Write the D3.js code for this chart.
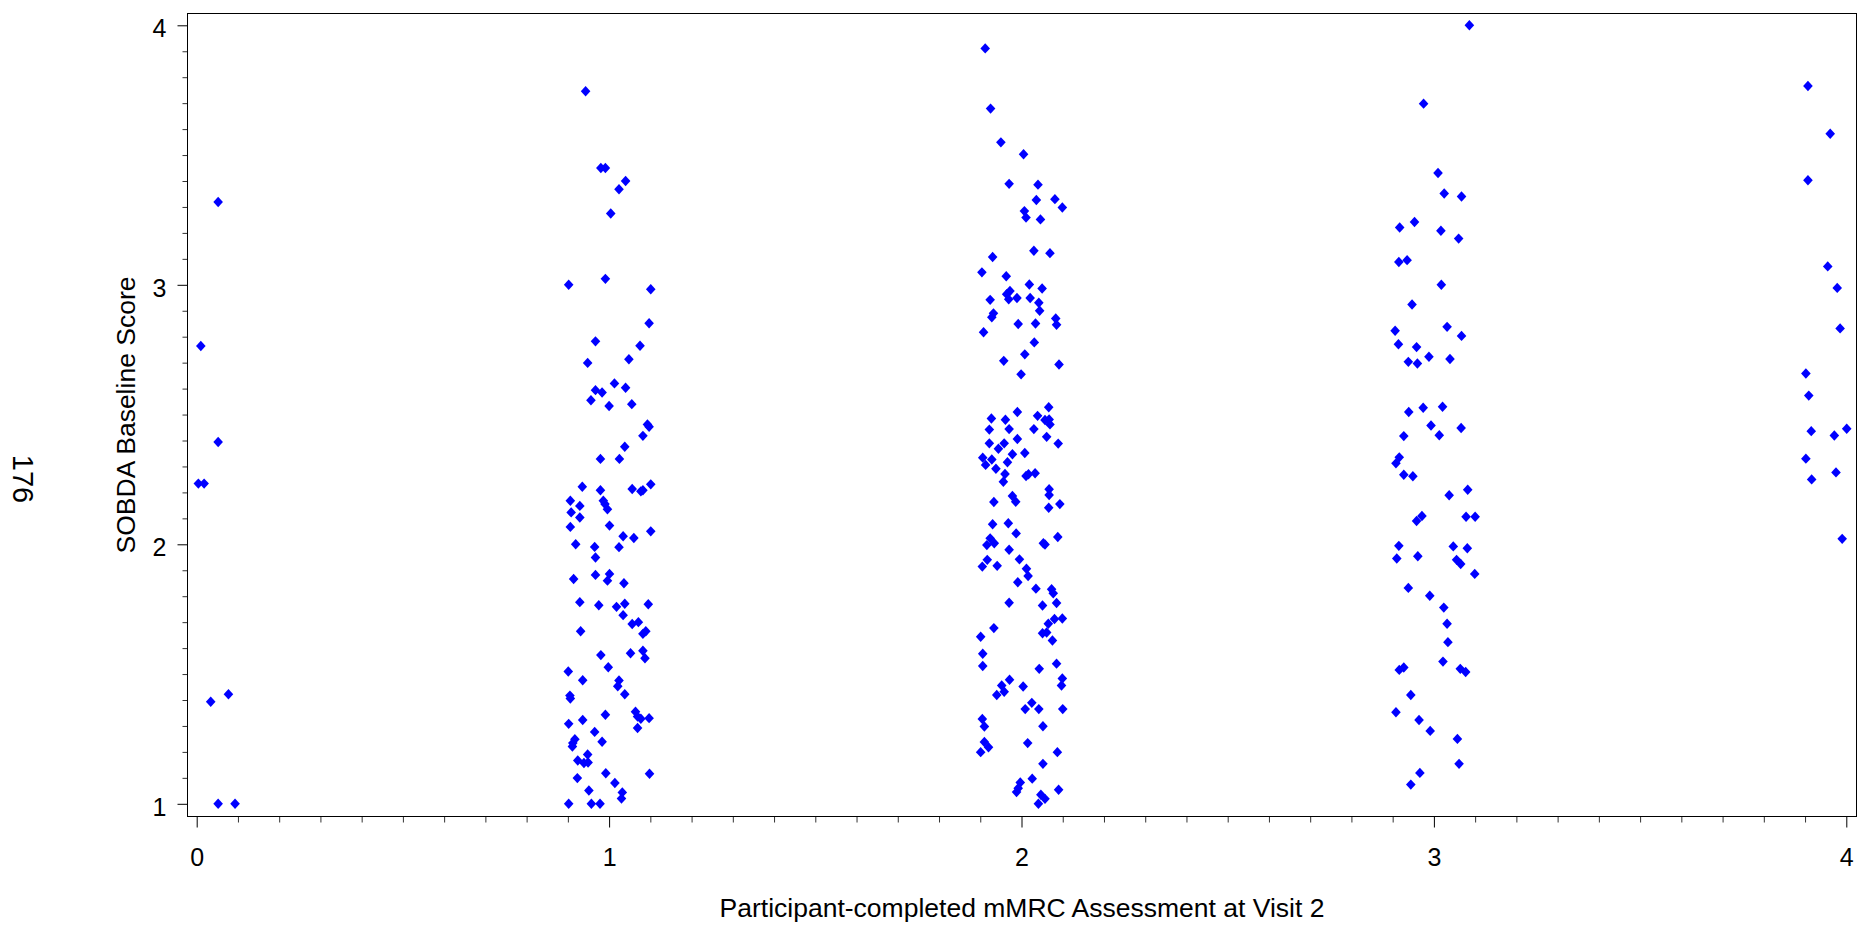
<!DOCTYPE html>
<html>
<head>
<meta charset="utf-8">
<script src="https://cdn.jsdelivr.net/npm/d3@7"></script>
<style>
  html, body { margin: 0; padding: 0; background: #fff; }
  svg { display: block; }
  text { font-family: "Liberation Sans", Arial, Helvetica, sans-serif; fill: #000; }
</style>
</head>
<body>
<svg id="chart" width="1860" height="932"></svg>
<script>
// mMRC grade groups (jittered horizontal position) and SOBDA baseline scores
const grade0X = [0.052,0.010,0.052,0.004,0.018,0.034,0.077,0.052,0.093];
const grade0Y = [3.319,2.764,2.394,2.234,2.234,1.393,1.422,1.000,1.000];

const grade1X = [0.943,0.980,0.991,1.040,1.024,1.004,0.902,0.991,1.101,1.097,
  0.967,1.075,0.948,1.048,1.013,1.040,0.967,0.983,0.956,1.000,
  1.055,1.093,1.097,1.082,1.038,0.979,1.025,0.935,0.979,1.056,
  1.077,1.082,1.101,0.906,0.986,0.990,0.996,0.929,0.908,0.929,
  0.906,1.001,1.101,1.034,1.060,0.919,0.965,1.024,0.967,0.914,
  0.967,1.001,0.996,1.036,0.929,0.975,1.018,1.038,1.034,1.095,
  1.056,1.071,1.082,1.089,0.931,0.980,1.052,1.082,1.087,0.901,
  0.998,0.936,1.024,1.021,1.038,0.905,0.906,0.991,1.064,1.069,
  1.077,1.097,1.069,0.902,0.936,0.965,0.917,0.912,0.911,0.983,
  0.948,0.924,0.939,0.949,0.992,1.098,0.923,1.014,0.951,1.032,
  1.030,0.902,0.957,0.978];
const grade1Y = [3.746,3.450,3.450,3.400,3.368,3.275,3.000,3.023,2.983,2.852,
  2.782,2.765,2.699,2.713,2.620,2.603,2.594,2.585,2.555,2.533,
  2.540,2.462,2.453,2.418,2.376,2.329,2.329,2.222,2.208,2.213,
  2.204,2.208,2.231,2.168,2.168,2.155,2.135,2.148,2.123,2.103,
  2.067,2.072,2.050,2.031,2.024,2.000,1.990,1.989,1.949,1.866,
  1.882,1.886,1.860,1.850,1.777,1.765,1.759,1.771,1.727,1.769,
  1.693,1.700,1.655,1.665,1.665,1.573,1.580,1.590,1.561,1.510,
  1.526,1.476,1.475,1.453,1.422,1.417,1.406,1.343,1.355,1.336,
  1.328,1.330,1.292,1.308,1.323,1.277,1.249,1.234,1.221,1.239,
  1.190,1.167,1.157,1.159,1.118,1.116,1.099,1.080,1.051,1.044,
  1.020,1.000,1.000,1.000];

const grade2X = [1.912,1.925,1.950,2.005,1.970,2.040,2.036,2.081,2.099,2.007,
  2.011,2.046,2.030,2.069,1.930,1.904,1.963,2.019,2.050,1.972,
  1.964,1.969,1.989,2.021,1.924,2.042,2.044,1.932,1.928,2.083,
  2.085,1.992,2.034,1.908,2.031,2.008,1.957,2.091,1.999,2.066,
  1.990,1.927,1.961,2.039,2.057,2.067,2.069,1.922,1.970,2.030,
  2.061,1.990,1.922,1.958,1.944,2.089,1.906,1.913,1.928,1.978,
  1.966,2.008,1.938,1.960,1.956,2.011,2.017,2.033,2.067,2.067,
  1.978,1.986,1.933,2.093,2.066,1.930,1.968,1.987,2.088,1.924,
  1.916,1.934,2.053,2.057,1.970,1.917,1.905,1.941,1.995,2.012,
  2.016,1.991,2.035,2.073,2.077,1.970,2.051,2.085,2.080,2.099,
  2.065,1.933,1.901,2.051,2.061,2.075,1.906,1.906,2.043,2.085,
  1.971,1.952,1.958,1.940,2.004,2.099,2.097,2.025,2.009,2.042,
  2.100,1.905,1.910,2.052,1.910,1.920,1.901,2.015,2.087,2.052,
  2.026,1.997,1.992,1.988,2.090,2.047,2.057,2.041];
const grade2Y = [3.911,3.679,3.549,3.503,3.389,3.386,3.327,3.330,3.298,3.284,
  3.259,3.252,3.131,3.122,3.107,3.048,3.033,3.001,2.986,2.976,
  2.964,2.944,2.949,2.949,2.942,2.931,2.900,2.890,2.875,2.870,
  2.846,2.849,2.851,2.817,2.778,2.732,2.707,2.693,2.655,2.528,
  2.510,2.485,2.480,2.495,2.479,2.481,2.462,2.442,2.444,2.444,
  2.414,2.406,2.389,2.389,2.368,2.388,2.334,2.306,2.327,2.347,
  2.316,2.352,2.291,2.271,2.241,2.263,2.270,2.274,2.212,2.190,
  2.186,2.164,2.163,2.155,2.141,2.077,2.081,2.042,2.028,2.023,
  1.997,2.004,2.004,1.999,1.979,1.940,1.914,1.917,1.942,1.906,
  1.878,1.854,1.829,1.827,1.811,1.775,1.764,1.774,1.712,1.714,
  1.694,1.677,1.644,1.657,1.660,1.629,1.578,1.531,1.520,1.540,
  1.478,1.456,1.432,1.419,1.452,1.483,1.456,1.389,1.365,1.365,
  1.365,1.327,1.298,1.299,1.238,1.218,1.199,1.234,1.199,1.154,
  1.097,1.082,1.060,1.045,1.054,1.035,1.019,1.000];

const grade3X = [3.086,2.975,3.010,3.025,3.067,2.917,2.953,3.017,3.060,2.915,
  2.935,3.018,2.947,2.906,3.032,3.067,2.914,2.958,2.938,2.960,
  2.988,3.039,2.939,2.974,3.021,2.993,3.066,2.927,3.013,2.916,
  2.908,2.927,2.949,3.082,3.037,2.971,2.958,3.078,3.100,2.915,
  2.910,2.961,3.047,3.081,3.055,3.065,3.099,2.938,2.990,3.024,
  3.032,3.034,3.022,2.916,2.927,3.064,3.077,2.944,2.908,2.964,
  2.991,3.057,3.061,2.966,2.944];
const grade3Y = [4.000,3.698,3.431,3.352,3.340,3.221,3.242,3.208,3.178,3.088,
  3.095,3.000,2.924,2.823,2.838,2.803,2.771,2.760,2.703,2.697,
  2.723,2.714,2.510,2.526,2.530,2.458,2.448,2.417,2.420,2.335,
  2.312,2.268,2.262,2.210,2.189,2.109,2.090,2.106,2.106,1.994,
  1.945,1.954,1.992,1.985,1.940,1.924,1.886,1.832,1.802,1.756,
  1.694,1.623,1.548,1.516,1.525,1.520,1.508,1.419,1.353,1.323,
  1.281,1.250,1.154,1.119,1.074];

const grade4X = [3.907,3.961,3.907,3.955,3.978,3.985,3.902,3.909,3.915,3.971,4.001,3.902,3.916,3.975,3.990];
const grade4Y = [3.766,3.582,3.403,3.071,2.988,2.832,2.658,2.573,2.436,2.419,2.445,2.330,2.250,2.277,2.021];

const xTickValues = [0, 1, 2, 3, 4];
const yTickValues = [1, 2, 3, 4];
const xTitle = "Participant-completed mMRC Assessment at Visit 2";
const yTitle = "SOBDA Baseline Score";
const pageNumber = "176";

// ---- layout ----
const svg = d3.select("#chart");
const frame = { left: 187.5, right: 1856.5, top: 13.5, bottom: 816.5 };

const x = d3.scaleLinear().domain([0, 4]).range([frame.left + 9.2, frame.right - 10.2]);
const y = d3.scaleLinear().domain([1, 4]).range([frame.bottom - 12.7, frame.top + 11.8]);

const groupsX = [grade0X, grade1X, grade2X, grade3X, grade4X];
const groupsY = [grade0Y, grade1Y, grade2Y, grade3Y, grade4Y];
const points = [];
groupsX.forEach((gx, g) => gx.forEach((v, i) => points.push({ x: v, y: groupsY[g][i] })));

// filled diamond marker, a touch taller than wide
const diamond = {
  draw(ctx, size) {
    const rx = 4.8, ry = 5.2;
    ctx.moveTo(0, -ry); ctx.lineTo(rx, 0); ctx.lineTo(0, ry); ctx.lineTo(-rx, 0); ctx.closePath();
  }
};

// ---- axes ----
const minorX = d3.range(0, 40.5, 1).map(d => d / 10).filter(d => Math.abs(d - Math.round(d)) > 1e-6);
const minorY = d3.range(10, 40.5, 1).map(d => d / 10).filter(d => Math.abs(d - Math.round(d)) > 1e-6);

const xAxisG = svg.append("g").attr("transform", `translate(0,${frame.bottom})`);
xAxisG.append("g").attr("class", "minor")
  .call(d3.axisBottom(x).tickValues(minorX).tickSize(6).tickFormat(""))
  .call(g => g.select(".domain").remove());
xAxisG.append("g")
  .call(d3.axisBottom(x).tickValues(xTickValues).tickSize(11).tickFormat(d3.format("d")))
  .call(g => g.select(".domain").remove())
  .call(g => g.selectAll("text").attr("y", 49.5).attr("dy", null)
    .style("font-size", "25px").style("font-family", null).attr("fill", "#000"));

const yAxisG = svg.append("g").attr("transform", `translate(${frame.left},0)`);
yAxisG.append("g").attr("class", "minor")
  .call(d3.axisLeft(y).tickValues(minorY).tickSize(5).tickFormat(""))
  .call(g => g.select(".domain").remove());
yAxisG.append("g")
  .call(d3.axisLeft(y).tickValues(yTickValues).tickSize(10).tickPadding(11).tickFormat(d3.format("d")))
  .call(g => g.select(".domain").remove())
  .call(g => g.selectAll("text").attr("dy", null).attr("y", 11.5)
    .style("font-size", "25px").style("font-family", null).attr("fill", "#000"));

svg.selectAll(".tick line").attr("stroke", "#000").attr("stroke-width", 1);
svg.selectAll(".minor .tick line").attr("stroke", "#333");

// ---- frame ----
svg.append("rect")
  .attr("x", frame.left).attr("y", frame.top)
  .attr("width", frame.right - frame.left).attr("height", frame.bottom - frame.top)
  .attr("fill", "none").attr("stroke", "#000").attr("stroke-width", 1);

// ---- points ----
svg.append("g")
  .selectAll("path")
  .data(points)
  .join("path")
  .attr("d", d3.symbol(diamond))
  .attr("transform", d => `translate(${x(d.x)},${y(d.y)})`)
  .attr("fill", "#0000ff");

// ---- titles ----
svg.append("text")
  .attr("x", (frame.left + frame.right) / 2).attr("y", 917)
  .attr("text-anchor", "middle").style("font-size", "26.5px")
  .text(xTitle);

svg.append("text")
  .attr("transform", `translate(134.5,${(frame.top + frame.bottom) / 2}) rotate(-90)`)
  .attr("text-anchor", "middle").style("font-size", "26.5px")
  .text(yTitle);

svg.append("text")
  .attr("transform", "translate(13,479) rotate(90)")
  .attr("text-anchor", "middle").style("font-size", "29px")
  .text(pageNumber);
</script>
</body>
</html>
